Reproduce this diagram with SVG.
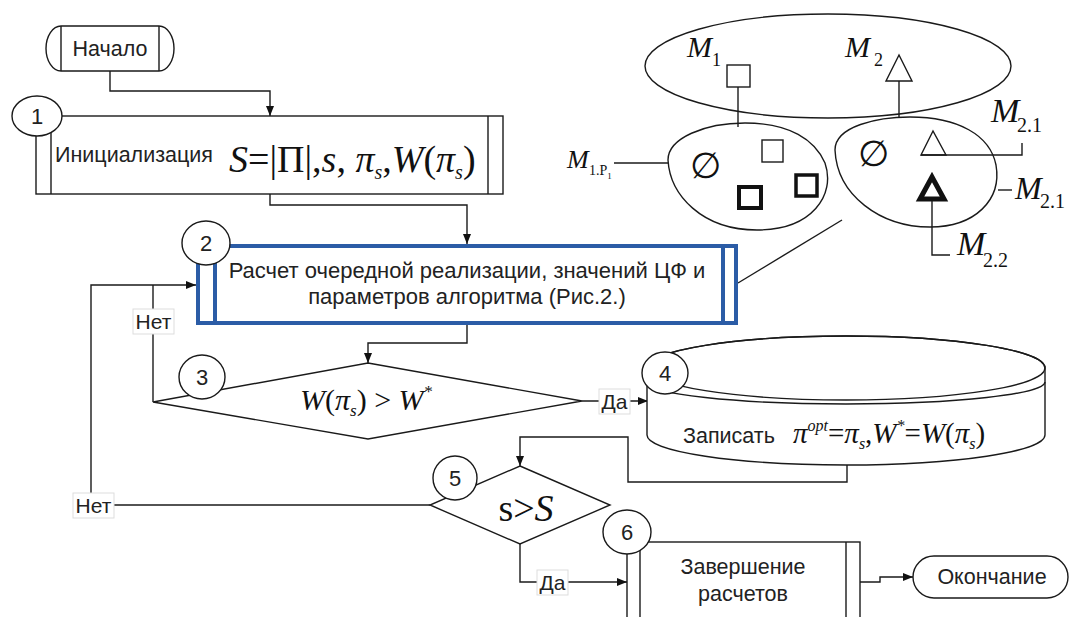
<svg xmlns="http://www.w3.org/2000/svg" width="1070" height="617" viewBox="0 0 1070 617">
<style>
.ln{fill:none;stroke:#1a1a1a;stroke-width:1.4}
.shp{fill:#fff;stroke:#1a1a1a;stroke-width:1.4}
.blue{fill:#fff;stroke:#2b5ca6;stroke-width:4}
.bl{fill:none;stroke:#2b5ca6;stroke-width:4}
.t{font-family:"Liberation Sans",Arial,sans-serif;font-size:21.5px;fill:#222}
.tb{font-family:"Liberation Sans",Arial,sans-serif;font-size:22px;fill:#222;text-anchor:middle}
.tl{font-family:"Liberation Sans",Arial,sans-serif;font-size:21px;fill:#222;text-anchor:middle}
.num{font-family:"Liberation Sans",Arial,sans-serif;font-size:22px;fill:#222;text-anchor:middle}
.m{font-family:"Liberation Serif","Times New Roman",serif;fill:#111}
.i{font-style:italic}
.lab{fill:#fff;stroke:#ddd;stroke-width:1}
</style>
<defs>
<marker id="ar" markerWidth="10" markerHeight="8" refX="10" refY="4" orient="auto" markerUnits="userSpaceOnUse">
<path d="M0,0 L10,4 L0,8 Z" fill="#111"/>
</marker>
</defs>

<g id="connectors">
<path class="ln" d="M110,71 V91 H270 V116" marker-end="url(#ar)"/>
<path class="ln" d="M270,194 V205 H467 V244" marker-end="url(#ar)"/>
<path class="ln" d="M467,325 V343 H368 V363" marker-end="url(#ar)"/>
<path class="ln" d="M153,402 V285"/>
<path class="ln" d="M91,505 V285 H196" marker-end="url(#ar)"/>
<path class="ln" d="M582,401 H648" marker-end="url(#ar)"/>
<path class="ln" d="M847,465 V482 H628 V437 H520 V466" marker-end="url(#ar)"/>
<path class="ln" d="M430,505 H91"/>
<path class="ln" d="M520,544 V582 H627" marker-end="url(#ar)"/>
<path class="ln" d="M860,582 H880 V577 H913" marker-end="url(#ar)"/>
<path class="ln" d="M738,283 L842,220"/>
<g id="label-net1"><rect class="lab" x="133" y="309" width="41" height="25"/><text class="tl" x="153.5" y="329">Нет</text></g>
<g id="label-da1"><rect class="lab" x="599" y="389" width="31" height="25"/><text class="tl" x="614.5" y="409">Да</text></g>
<g id="label-net2"><rect class="lab" x="73" y="493" width="41" height="25"/><text class="tl" x="93.5" y="513">Нет</text></g>
<g id="label-da2"><rect class="lab" x="537" y="570" width="31" height="25"/><text class="tl" x="552.5" y="590">Да</text></g>
</g>

<g id="start">
<path class="shp" d="M61,26 H159 A15,22.5 0 0 1 159,71 H61 A15,22.5 0 0 1 61,26 Z"/>
<path class="ln" d="M61,26 V71 M159,26 V71"/>
<text class="t" x="110" y="56" text-anchor="middle">Начало</text>
</g>

<g id="node1">
<rect class="shp" x="36" y="116" width="467" height="78"/>
<path class="ln" d="M51,116 V194 M488,116 V194"/>
<text class="t" x="55" y="162">Инициализация</text>
<text class="m" x="229" y="172" font-size="38"><tspan class="i">S</tspan><tspan>=|Π|,</tspan><tspan class="i">s</tspan><tspan>, </tspan><tspan class="i">π</tspan><tspan class="i" font-size="20" dy="7">s</tspan><tspan dy="-7">,</tspan><tspan class="i">W</tspan><tspan>(</tspan><tspan class="i">π</tspan><tspan class="i" font-size="20" dy="7">s</tspan><tspan dy="-7">)</tspan></text>
<ellipse class="shp" cx="37" cy="116" rx="25" ry="20"/>
<text class="num" x="37" y="124">1</text>
</g>

<g id="node2">
<rect class="blue" x="198" y="246" width="538" height="77"/>
<path class="bl" d="M215,246 V323 M723,246 V323"/>
<text class="tb" x="467" y="278">Расчет очередной реализации, значений ЦФ и</text>
<text class="tb" x="467" y="304">параметров алгоритма (Рис.2.)</text>
<ellipse class="shp" cx="206" cy="243" rx="24" ry="22"/>
<text class="num" x="206" y="251">2</text>
</g>

<g id="node3">
<path class="shp" d="M368,363 L582,401 L368,439 L153,402 Z"/>
<text class="m i" x="300" y="410" font-size="30">W<tspan font-style="normal">(</tspan>π<tspan font-size="17" dy="6">s</tspan><tspan dy="-6" font-style="normal">) &gt; </tspan>W<tspan font-size="17" dy="-13">*</tspan></text>
<ellipse class="shp" cx="202" cy="377" rx="23" ry="22"/>
<text class="num" x="202" y="385">3</text>
</g>

<g id="node4">
<path class="shp" d="M647,368 A199,32 0 0 1 1045,368 V435 A199,30 0 0 1 647,435 Z"/>
<ellipse class="ln" cx="846" cy="368" rx="199" ry="32"/>
<path class="ln" d="M647,382 A199,22 0 0 0 1045,382"/>
<text class="t" x="683" y="443">Записать</text>
<text class="m i" x="793" y="443" font-size="29">π<tspan font-size="16" dy="-12">opt</tspan><tspan dy="12" font-style="normal">=</tspan>π<tspan font-size="16" dy="6">s</tspan><tspan dy="-6" font-style="normal">,</tspan>W<tspan font-size="16" dy="-12">*</tspan><tspan dy="12" font-style="normal">=</tspan>W<tspan font-style="normal">(</tspan>π<tspan font-size="16" dy="6">s</tspan><tspan dy="-6" font-style="normal">)</tspan></text>
<ellipse class="shp" cx="665" cy="373" rx="23" ry="21"/>
<text class="num" x="665" y="381">4</text>
</g>

<g id="node5">
<path class="shp" d="M520,466 L610,505 L520,544 L430,505 Z"/>
<text class="m" x="526" y="521" font-size="38" text-anchor="middle">s&gt;<tspan class="i">S</tspan></text>
<ellipse class="shp" cx="455" cy="478" rx="22" ry="22"/>
<text class="num" x="455" y="486">5</text>
</g>

<g id="node6">
<rect class="shp" x="627" y="542" width="233" height="90"/>
<path class="ln" d="M640,542 V632 M846,542 V632"/>
<text class="t" x="743" y="574" text-anchor="middle">Завершение</text>
<text class="t" x="743" y="601" text-anchor="middle">расчетов</text>
<ellipse class="shp" cx="627" cy="532" rx="24" ry="22"/>
<text class="num" x="627" y="540">6</text>
</g>

<g id="end">
<rect class="shp" x="913" y="556" width="155" height="42" rx="21" ry="21"/>
<text class="t" x="992" y="584" text-anchor="middle">Окончание</text>
</g>

<g id="sets">
<ellipse class="ln" cx="828" cy="66" rx="183" ry="52"/>
<text class="m i" x="687" y="57" font-size="30">M</text><text class="m" x="712" y="66" font-size="18">1</text>
<rect class="shp" x="727" y="65" width="23" height="22"/>
<path class="ln" d="M738,87 V127"/>
<text class="m i" x="845" y="57" font-size="30">M</text><text class="m" x="874" y="66" font-size="18">2</text>
<polygon class="shp" points="899,55 886,81 912,81"/>
<path class="ln" d="M899,81 V118"/>
<path class="ln" d="M668,160 C668,138 705,123 745,123 C790,123 815,140 825,163 C836,195 812,230 757,230 C702,230 670,195 668,160 Z"/>
<path class="ln" d="M835,150 C835,126 878,117 910,117 C958,117 990,135 996,165 C1002,200 975,227 930,227 C880,227 837,195 835,150 Z"/>
<text class="m i" x="567" y="168" font-size="26">M</text><text class="m" x="589" y="175" font-size="14">1.P<tspan font-size="9" dy="4">1</tspan></text>
<path class="ln" d="M614,163 H668"/>
<text class="m" x="705" y="178" font-size="36" text-anchor="middle">∅</text>
<rect class="shp" x="762" y="140" width="21" height="22"/>
<rect x="739" y="187" width="22" height="21" fill="none" stroke="#111" stroke-width="4"/>
<rect x="796" y="175" width="21" height="21" fill="none" stroke="#111" stroke-width="3.5"/>
<text class="m" x="873" y="166" font-size="36" text-anchor="middle">∅</text>
<polygon class="shp" points="933,131 921,155 946,155"/>
<path class="ln" d="M921,155 H1022 V143"/>
<text class="m i" x="991" y="122" font-size="34">M</text><text class="m" x="1017" y="132" font-size="20">2.1</text>
<polygon points="932,177 920,199 944,199" fill="none" stroke="#111" stroke-width="5" stroke-linejoin="miter"/>
<path class="ln" d="M932,201 V255 H950"/>
<text class="m i" x="957" y="255" font-size="34">M</text><text class="m" x="983" y="267" font-size="20">2.2</text>
<path class="ln" d="M998,190 H1012"/>
<text class="m i" x="1015" y="199" font-size="32">M</text><text class="m" x="1040" y="208" font-size="20">2.1</text>
</g>
</svg>
